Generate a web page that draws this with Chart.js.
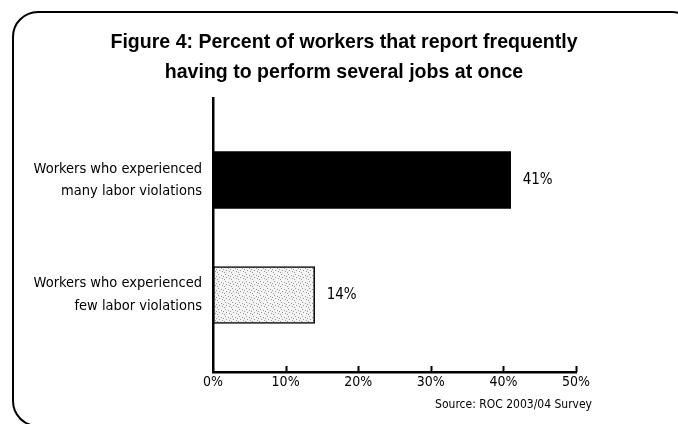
<!DOCTYPE html>
<html>
<head>
<meta charset="utf-8">
<script src="https://cdn.jsdelivr.net/npm/chart.js@4"></script>
<style>
  html,body{margin:0;padding:0;background:#fff;overflow:hidden;}
  #wrap{position:relative;width:678px;height:424px;overflow:hidden;}
  #frame{position:absolute;left:12px;top:11px;width:686px;height:416px;box-sizing:border-box;border:2.5px solid #000;border-radius:26px;}
  canvas{position:absolute;left:0;top:0;}
</style>
</head>
<body>
<div id="wrap">
  <div id="frame"></div>
  <canvas id="c" width="678" height="424"></canvas>
</div>
<script>
const titleLines = ["Figure 4: Percent of workers that report frequently", "having to perform several jobs at once"];
const categories = [["Workers who experienced", "many labor violations"], ["Workers who experienced", "few labor violations"]];
const values = [41, 14];
const valueLabels = ["41%", "14%"];
const xTicks = [0, 10, 20, 30, 40, 50];
const sourceText = "Source: ROC 2003/04 Survey";

const FONT = "'DejaVu Sans Condensed', 'Liberation Sans', sans-serif";
const TITLE_FONT = "bold 21px 'Liberation Sans', Arial, sans-serif";

function stipple() {
  const p = document.createElement('canvas');
  p.width = 7; p.height = 7;
  const g = p.getContext('2d');
  g.fillStyle = '#f4f4f4'; g.fillRect(0,0,7,7);
  g.fillStyle = '#9a9a9a';
  [[1,1],[4,2],[2,4],[5,5],[0,6],[6,3]].forEach(([x,y]) => g.fillRect(x,y,1,1));
  return g.createPattern(p, 'repeat');
}
const ctx0 = document.getElementById('c').getContext('2d');
const pat = stipple();

const extras = {
  id: 'extras',
  afterDraw(chart) {
    const ctx = chart.ctx;
    const meta = chart.getDatasetMeta(0);
    const xs = chart.scales.x;
    const area = chart.chartArea;
    ctx.save();
    // title, condensed horizontally
    ctx.fillStyle = '#000';
    ctx.font = TITLE_FONT;
    ctx.textBaseline = 'alphabetic';
    ctx.textAlign = 'center';
    const sx = 467 / ctx.measureText(titleLines[0]).width;
    titleLines.forEach((t, i) => {
      ctx.save();
      ctx.translate(344, 48 + i * 30);
      ctx.scale(sx, 1);
      ctx.fillText(t, 0, 0);
      ctx.restore();
    });
    // tick marks pointing up from x-axis
    ctx.strokeStyle = '#000'; ctx.lineWidth = 2;
    xTicks.forEach(v => {
      if (v === 0) return;
      const px = Math.round(xs.getPixelForValue(v)) + 0.5;
      ctx.beginPath(); ctx.moveTo(px, area.bottom); ctx.lineTo(px, area.bottom - 6); ctx.stroke();
    });
    // value labels
    ctx.font = "15px " + FONT;
    ctx.textBaseline = 'middle';
    ctx.textAlign = 'left';
    meta.data.forEach((el, i) => {
      ctx.fillText(valueLabels[i], el.x + 12, el.y);
    });
    // source
    ctx.font = "12px " + FONT;
    ctx.textAlign = 'right';
    ctx.fillText(sourceText, 592, 405);
    ctx.restore();
  }
};

new Chart(ctx0, {
  type: 'bar',
  data: {
    datasets: [{
      data: values.map((v, i) => ({x: v, y: i})),
      backgroundColor: ['#000', pat],
      borderColor: ['#000', '#000'],
      borderWidth: [0, 1.5],
      borderSkipped: false,
      barThickness: 57
    }]
  },
  options: {
    indexAxis: 'y',
    responsive: false,
    animation: false,
    layout: { padding: { top: 98, right: 102, bottom: 0, left: 0 } },
    plugins: {
      legend: { display: false },
      tooltip: { enabled: false },
      title: { display: false }
    },
    scales: {
      x: {
        type: 'linear',
        min: 0, max: 50,
        afterBuildTicks(axis) { axis.ticks = xTicks.map(v => ({value: v})); },
        afterFit(axis) { axis.height = 52; },
        ticks: {
          color: '#000',
          font: { family: FONT, size: 14 },
          padding: 2,
          callback: v => v + '%'
        },
        grid: { drawOnChartArea: false, drawTicks: false },
        border: { display: true, color: '#000', width: 2.5 }
      },
      y: {
        type: 'linear',
        reverse: true,
        offset: false,
        min: -0.713, max: 1.67,
        afterBuildTicks(axis) { axis.ticks = categories.map((c, i) => ({value: i})); },
        afterFit(axis) { axis.width = 213; },
        ticks: {
          color: '#000',
          font: { family: FONT, size: 14.5, lineHeight: 1.55 },
          padding: 11,
          callback: (v) => categories[v]
        },
        grid: { drawOnChartArea: false, drawTicks: false, offset: false },
        border: { display: true, color: '#000', width: 2.5 }
      }
    }
  },
  plugins: [extras]
});
</script>
</body>
</html>
